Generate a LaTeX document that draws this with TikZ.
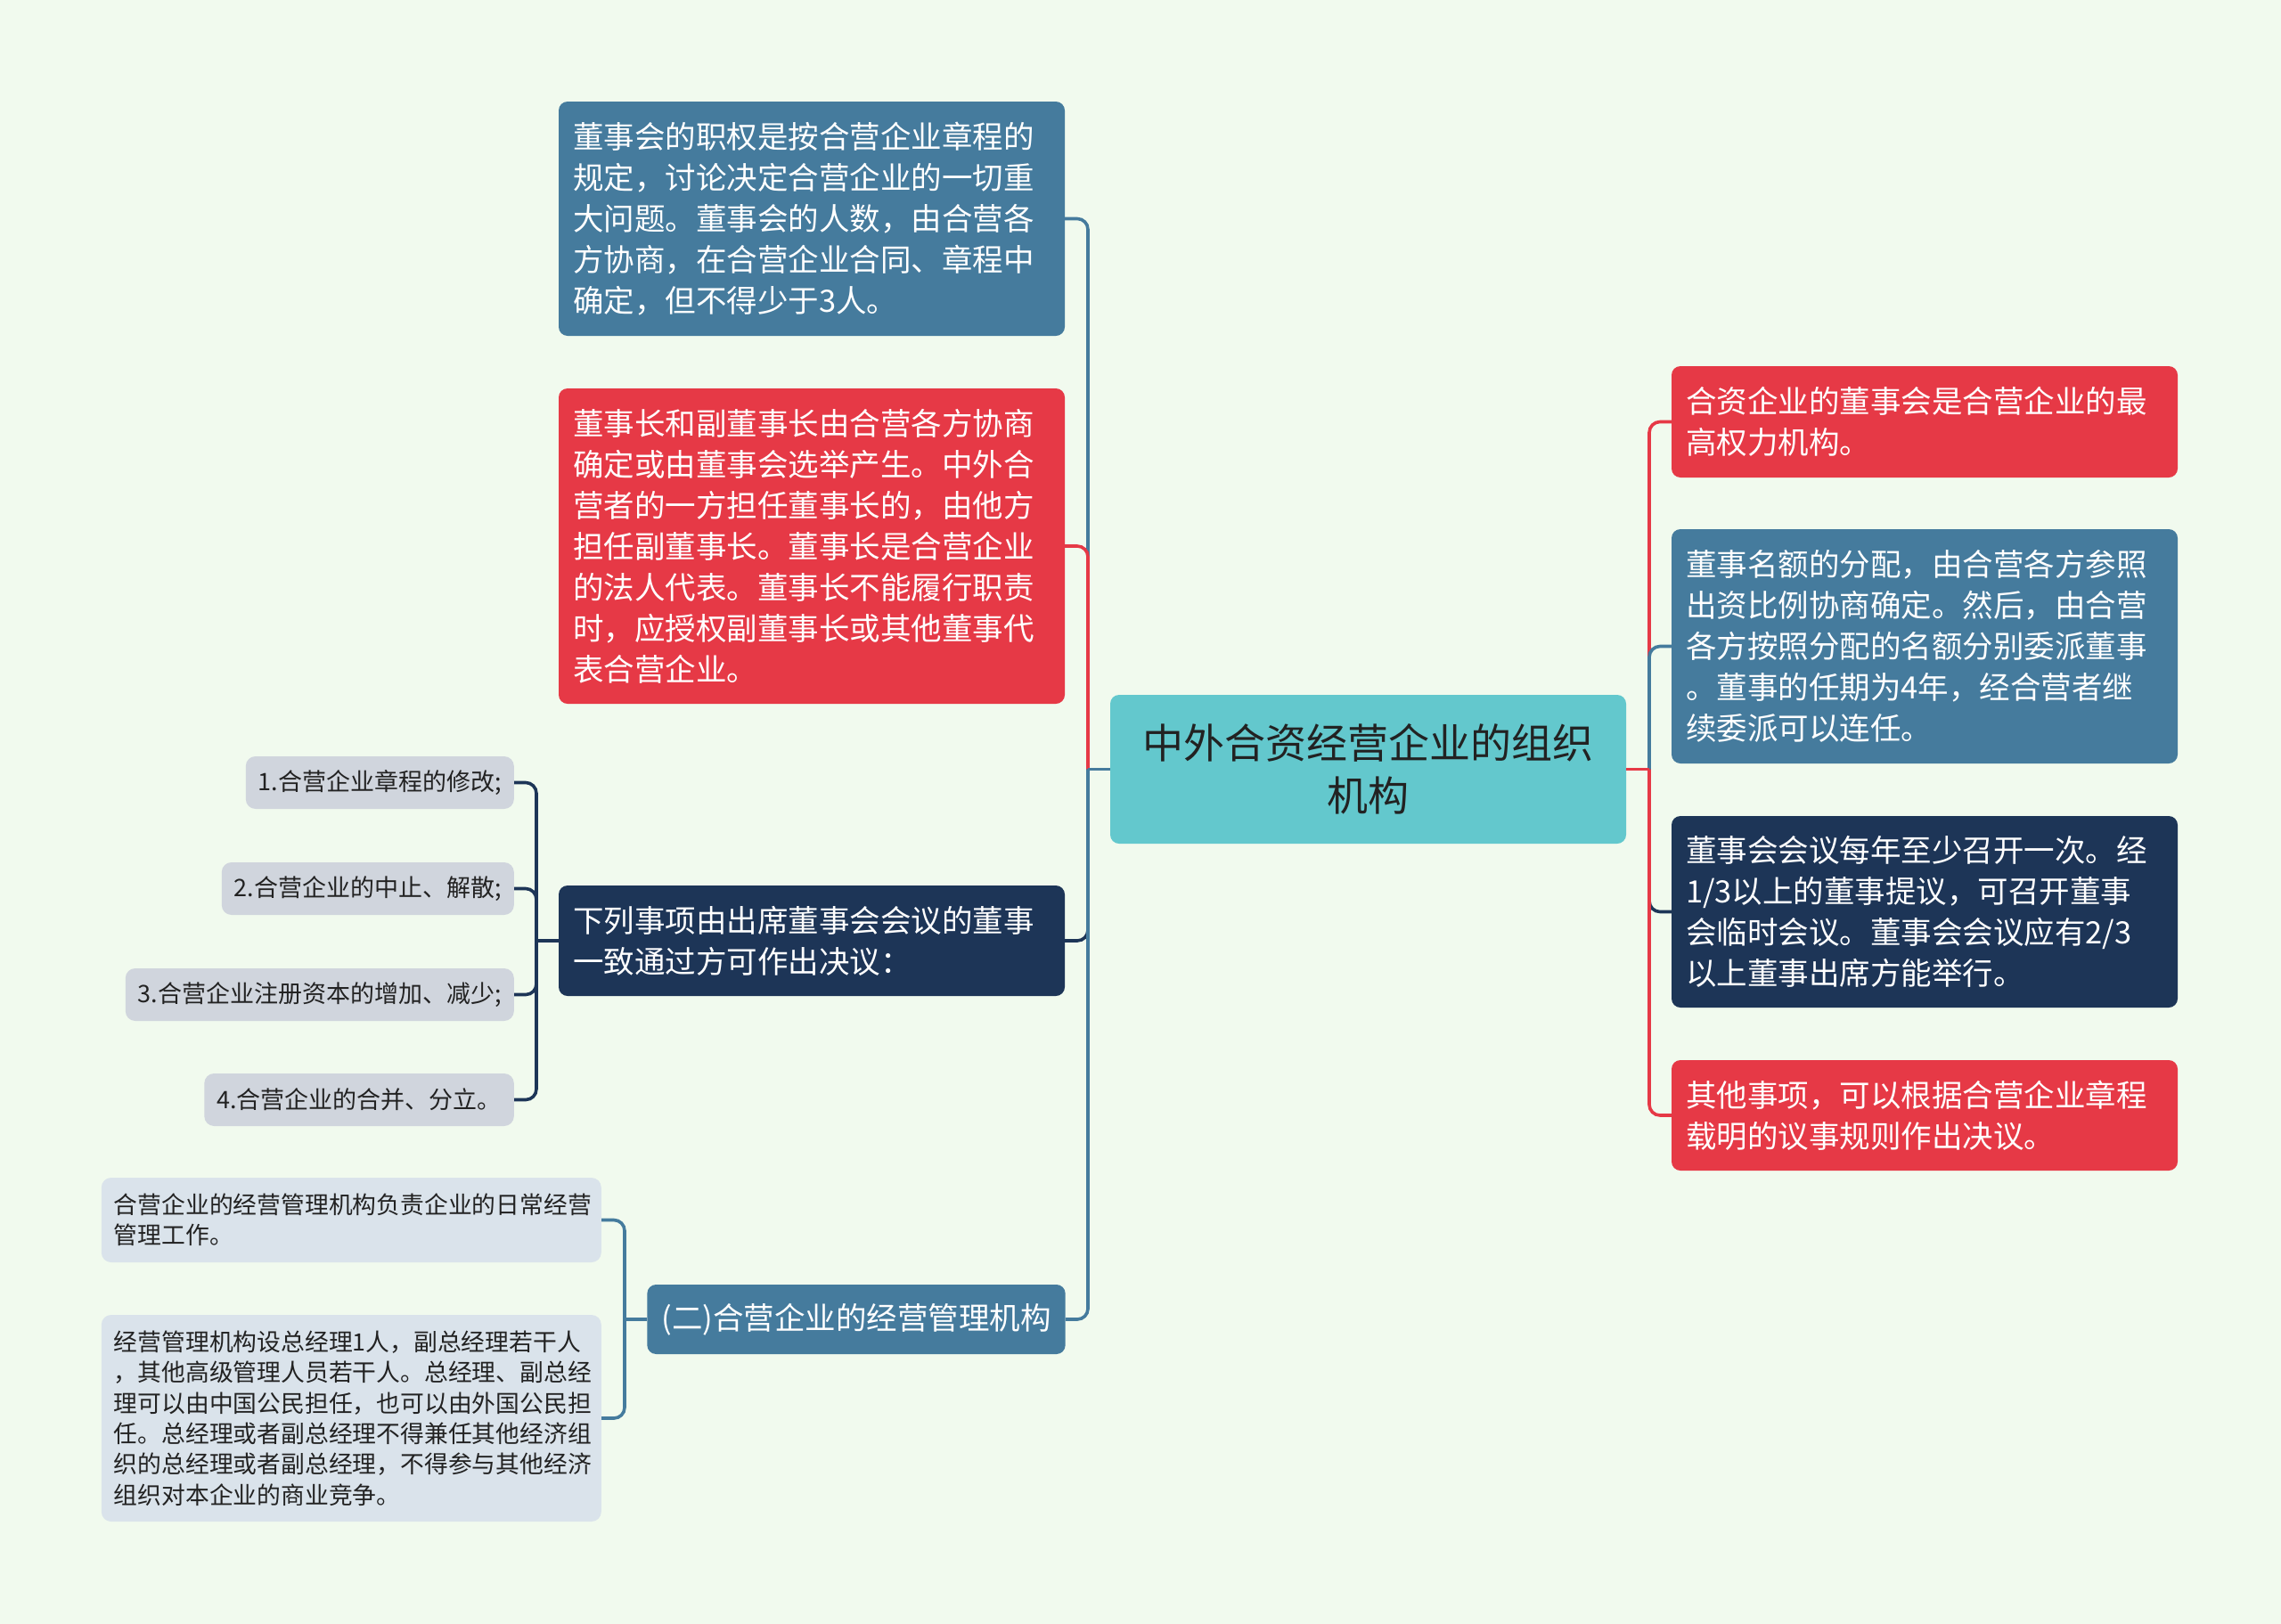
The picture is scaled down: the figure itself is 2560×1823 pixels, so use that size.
\documentclass[tikz,border=0pt]{standalone}
\usepackage{fontspec}
\setmainfont{Noto Sans CJK SC}
\definecolor{bgc}{HTML}{F1FAEE}
\definecolor{cred}{HTML}{E63946}
\definecolor{cblue}{HTML}{457B9D}
\definecolor{cnavy}{HTML}{1D3557}
\definecolor{cteal}{HTML}{63C8CD}
\definecolor{cgray}{HTML}{D0D5DD}
\definecolor{clight}{HTML}{DAE3EB}
\definecolor{ctext}{HTML}{222222}
\begin{document}
\begin{tikzpicture}[x=1pt,y=-1pt,
  bigbox/.style={rounded corners=10pt, inner xsep=16pt, inner ysep=0pt,
    text width=536pt, align=left, text=white,
    font=\fontsize{34.5}{46}\selectfont},
  centerbox/.style={rounded corners=10pt, fill=cteal, inner xsep=16pt, inner ysep=0pt,
    text width=547pt, align=center, text=ctext, minimum height=167pt,
    font=\fontsize{46}{59}\selectfont},
  graybox/.style={rounded corners=11pt, fill=cgray, inner xsep=14pt, inner ysep=0pt,
    minimum height=59pt, text=ctext, anchor=east,
    font=\fontsize{27}{34.3}\selectfont},
  lightbox/.style={rounded corners=11pt, fill=clight, inner xsep=14pt, inner ysep=0pt,
    text width=533pt, align=left, text=ctext, anchor=east,
    font=\fontsize{26.8}{34.3}\selectfont},
  conn/.style={line width=3.6pt, rounded corners=12pt}]
\useasboundingbox (0,0) rectangle (2560,1823);
\fill[bgc] (0,0) rectangle (2560,1823);

% centre
\node[centerbox] (C) at (1535.5,863.5) {中外合资经营企业的组织\\机构};

% left main branches
\node[bigbox, fill=cblue, minimum height=263pt] (LB1) at (911,245.5)
  {董事会的职权是按合营企业章程的\\规定，讨论决定合营企业的一切重\\大问题。董事会的人数，由合营各\\方协商，在合营企业合同、章程中\\确定，但不得少于3人。};
\node[bigbox, fill=cred, minimum height=354pt] (LR) at (911,613)
  {董事长和副董事长由合营各方协商\\确定或由董事会选举产生。中外合\\营者的一方担任董事长的，由他方\\担任副董事长。董事长是合营企业\\的法人代表。董事长不能履行职责\\时，应授权副董事长或其他董事代\\表合营企业。};
\node[bigbox, fill=cnavy, minimum height=124pt] (LD) at (911,1056)
  {下列事项由出席董事会会议的董事\\一致通过方可作出决议：};
\node[rounded corners=10pt, fill=cblue, text=white, inner xsep=16pt, inner ysep=0pt,
  minimum width=468pt, minimum height=78pt, font=\fontsize{34.5}{46}\selectfont]
  (LB2) at (961,1481) {(二)合营企业的经营管理机构};

% right branches
\node[bigbox, fill=cred, minimum height=125pt] (R1) at (2160,473.5)
  {合资企业的董事会是合营企业的最\\高权力机构。};
\node[bigbox, fill=cblue, minimum height=263pt] (R2) at (2160,725.5)
  {董事名额的分配，由合营各方参照\\出资比例协商确定。然后，由合营\\各方按照分配的名额分别委派董事\\。董事的任期为4年，经合营者继\\续委派可以连任。};
\node[bigbox, fill=cnavy, minimum height=215pt] (R3) at (2160,1023.5)
  {董事会会议每年至少召开一次。经\\1/3以上的董事提议，可召开董事\\会临时会议。董事会会议应有2/3\\以上董事出席方能举行。};
\node[bigbox, fill=cred, minimum height=124pt] (R4) at (2160,1252)
  {其他事项，可以根据合营企业章程\\载明的议事规则作出决议。};

% grey leaves of LD
\node[graybox, minimum width=296pt] (G1) at (577,878.5) {1.合营企业章程的修改;};
\node[graybox, minimum width=322pt] (G2) at (577,997.5) {2.合营企业的中止、解散;};
\node[graybox, minimum width=430pt] (G3) at (577,1116.5) {3.合营企业注册资本的增加、减少;};
\node[graybox, minimum width=344pt] (G4) at (577,1234.5) {4.合营企业的合并、分立。};

% light leaves of LB2
\node[lightbox, minimum height=95pt] (L1) at (675,1369.5)
  {合营企业的经营管理机构负责企业的日常经营\\管理工作。};
\node[lightbox, minimum height=232pt] (L2) at (675,1592)
  {经营管理机构设总经理1人，副总经理若干人\\，其他高级管理人员若干人。总经理、副总经\\理可以由中国公民担任，也可以由外国公民担\\任。总经理或者副总经理不得兼任其他经济组\\织的总经理或者副总经理，不得参与其他经济\\组织对本企业的商业竞争。};

% junctions
\coordinate (jl) at (1221,863.5);
\coordinate (jr) at (1851,863.5);
\coordinate (jd) at (602,1056);
\coordinate (je) at (701,1481);

% left connectors
\draw[conn, cblue] (jl) |- (LB1.east);
\draw[conn, cred] (jl) |- (LR.east);
\draw[conn, cnavy] (jl) |- (LD.east);
\draw[conn, cblue] (jl) |- (LB2.east);
\draw[conn, cblue] (C.west) -- (jl);

% right connectors
\draw[conn, cred] (jr) |- (R1.west);
\draw[conn, cblue] (jr) |- (R2.west);
\draw[conn, cnavy] (jr) |- (R3.west);
\draw[conn, cred] (jr) |- (R4.west);
\draw[conn, cred] (C.east) -- (jr);

% grey connectors
\draw[conn, cnavy] (jd) |- (G1.east);
\draw[conn, cnavy] (jd) |- (G2.east);
\draw[conn, cnavy] (jd) |- (G3.east);
\draw[conn, cnavy] (jd) |- (G4.east);
\draw[conn, cnavy] (LD.west) -- (jd);

% light connectors
\draw[conn, cblue] (je) |- (L1.east);
\draw[conn, cblue] (je) |- (L2.east);
\draw[conn, cblue] (LB2.west) -- (je);
\end{tikzpicture}
\end{document}
